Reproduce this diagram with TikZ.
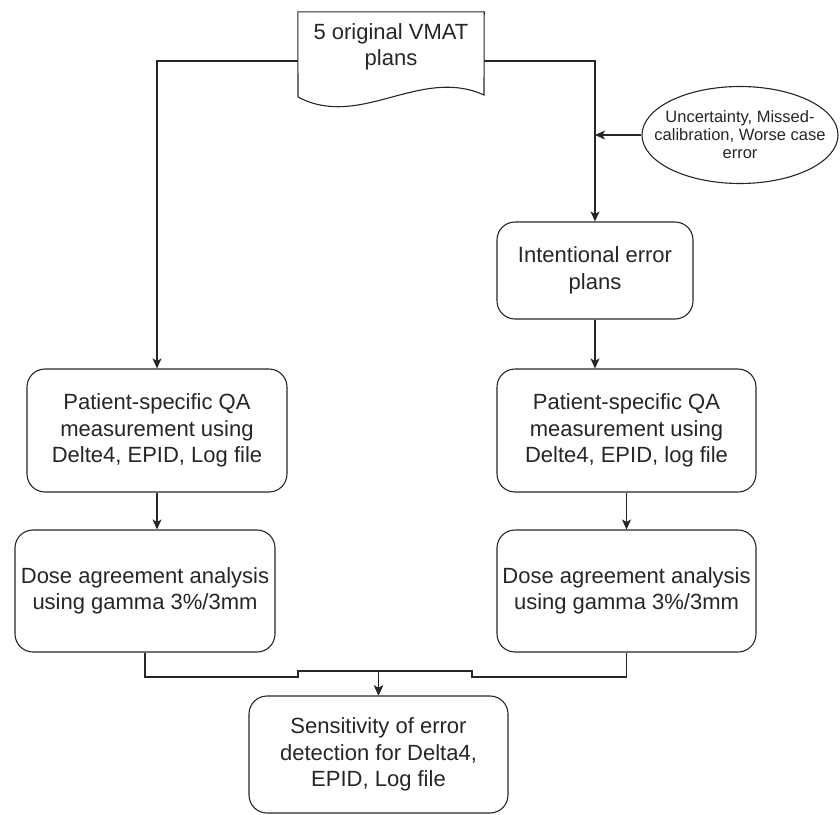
\documentclass[tikz,border=0pt]{standalone}
\usepackage{fontspec}
\setmainfont{Liberation Sans}
\usetikzlibrary{shapes.geometric,arrows.meta}

\tikzset{
  conn/.style={draw=black!85, line width=1.1pt},
  arrow/.style={conn, -{Stealth[length=10pt,width=9pt,inset=2.5pt]}},
  txt/.style={align=center, text=black!85, inner sep=0pt,
    font=\fontsize{22}{26.4}\selectfont},
  smalltxt/.style={align=center, text=black!85, inner sep=0pt,
    font=\fontsize{16.5}{18}\selectfont},
  stepbox/.style={txt, conn, rounded corners=18pt,
    minimum width=259pt, minimum height=122pt},
  holder/.style={inner sep=0pt, minimum width=186pt, minimum height=98pt}
}

\begin{document}
\begin{tikzpicture}[x=1pt,y=-1pt]
\useasboundingbox (0,0) rectangle (840,814);

% source plans (document shape with a wavy lower edge)
\node[holder] (doc) at (391,61) {};
\draw[conn] (doc.north west) -- (doc.north east) -- (484,95)
  .. controls (420,66) and (360,130) .. (298,97) -- cycle;
\node[txt] at (391,47) {5 original VMAT\\plans};

% error sources
\node[conn, ellipse, minimum width=196pt, minimum height=97pt] (err) at (740,135) {};
\node[smalltxt] at (err) {Uncertainty, Missed-\\calibration, Worse case\\error};

% process boxes
\node[stepbox, minimum width=196pt, minimum height=97pt] (int) at (595,270.5)
  {Intentional error\\plans};
\node[stepbox, minimum width=260pt, minimum height=123pt] (qaL) at (157,430.5)
  {Patient-specific QA\\measurement using\\Delte4, EPID, Log file};
\node[stepbox, minimum height=123pt] (qaR) at (626.5,430.5)
  {Patient-specific QA\\measurement using\\Delte4, EPID, log file};
\node[stepbox, minimum width=260pt] (doseL) at (145,591)
  {Dose agreement analysis\\using gamma 3\%/3mm};
\node[stepbox] (doseR) at (626.5,591)
  {Dose agreement analysis\\using gamma 3\%/3mm};
\node[stepbox, minimum height=117pt] (sens) at (378.5,754.5)
  {Sensitivity of error\\detection for Delta4,\\EPID, Log file};

% connectors
\draw[arrow] (doc.west) -| (qaL.north);
\draw[arrow] (doc.east) -| (int.north);
\draw[arrow] (err.west) -- (err.west -| int.north);
\draw[arrow] (int.south) -- (int.south |- qaR.north);
\draw[arrow] (qaL.south) -- (qaL.south |- doseL.north);
\draw[arrow] (qaR.south) -- (qaR.north |- doseR.north);

\coordinate (jL) at (298,677);
\coordinate (jR) at (472,677);
\draw[arrow] (doseL.south) |- (jL) -- ++(0,-6) -| (sens.north);
\draw[arrow] (doseR.south) |- (jR) -- ++(0,-6) -| (sens.north);
\end{tikzpicture}
\end{document}
